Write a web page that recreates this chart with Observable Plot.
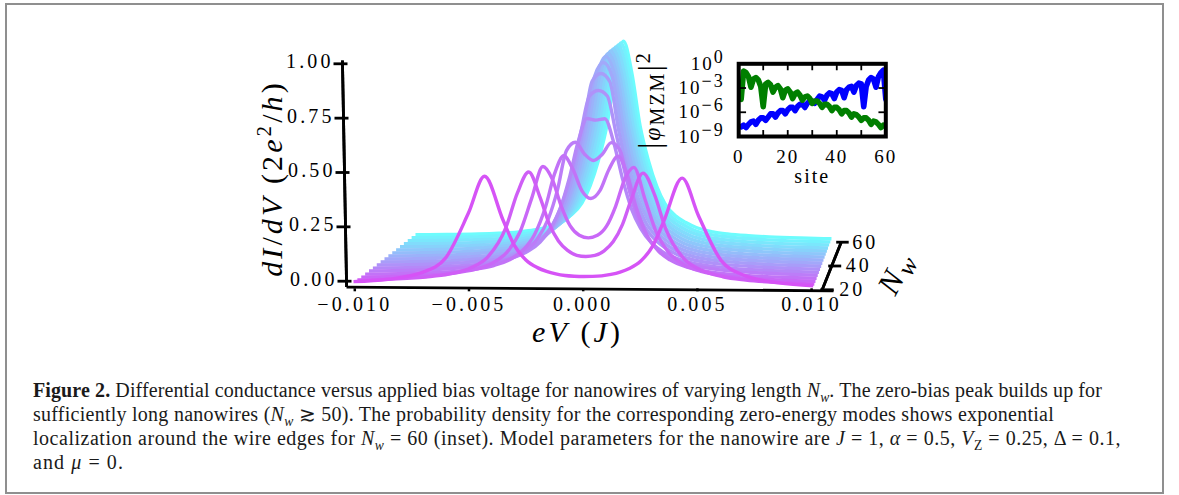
<!DOCTYPE html>
<html><head><meta charset="utf-8">
<script src="https://cdn.jsdelivr.net/npm/d3@7"></script>
<script src="https://cdn.jsdelivr.net/npm/@observablehq/plot@0.6"></script>
<style>
html,body{margin:0;padding:0;width:1179px;height:495px;overflow:hidden;background:#fff}
#frame{position:absolute;left:5px;top:3px;width:1159px;height:491px;box-sizing:border-box;border:2px solid #8f8f8f}
#main,#inset{position:absolute}
#main{left:0;top:0}
#inset{left:630px;top:10px}
#main text,#inset text{font-family:"Liberation Serif",serif}
#main text{letter-spacing:3.1px}
#inset text{letter-spacing:2px}
.cap{position:absolute;left:33px;white-space:nowrap;font:20px/22px "Liberation Serif",serif;color:#1a1a1a}
.cap sub{font-size:.68em;line-height:0}
</style></head><body>
<div id="frame"></div><div id="main"></div><div id="inset"></div>
<div class="cap" data-w="1069" style="top:379px"><b>Figure 2.</b> Differential conductance versus applied bias voltage for nanowires of varying length <i>N<sub>w</sub></i>. The zero-bias peak builds up for</div>
<div class="cap" data-w="1021" style="top:403px">sufficiently long nanowires (<i>N<sub>w</sub></i> ≳ 50). The probability density for the corresponding zero-energy modes shows exponential</div>
<div class="cap" data-w="1088" style="top:427px">localization around the wire edges for <i>N<sub>w</sub></i> = 60 (inset). Model parameters for the nanowire are <i>J</i> = 1, <i>α</i> = 0.5, <i>V</i><sub>Z</sub> = 0.25, Δ = 0.1,</div>
<div class="cap" data-w="91" style="top:451px">and <i>μ</i> = 0.</div>
<script>
// half-profile bias grid (the curves are symmetric about zero bias), in units of J
const biasGrid = [0,.0004,.0008,.0012,.0016,.002,.0025,.003,.0035,.0043,.005,.006,.007,.0085,.01];
// conductance read at the grid above, one array per wire length
const g20   = [.05,.051,.054,.061,.072,.089,.124,.19,.308,.507,.337,.129,.062,.029,.017];
const g22_5 = [.129,.134,.156,.199,.278,.399,.517,.419,.259,.122,.073,.041,.027,.016,.011];
const g25   = [.202,.214,.257,.35,.476,.532,.382,.229,.142,.076,.05,.031,.021,.0135,.0094];
const g27_5 = [.373,.41,.51,.572,.49,.335,.201,.129,.089,.055,.039,.026,.019,.0124,.0089];
const g30   = [.54,.57,.625,.585,.40,.265,.168,.1145,.083,.0535,.039,.027,.0196,.0132,.0095];
const g32_5 = [.72,.727,.615,.44,.30,.21,.14,.0985,.0727,.0478,.035,.0242,.0176,.0118,.0085];
const g35   = [.851,.825,.645,.46,.32,.22,.148,.105,.075,.047,.035,.024,.0175,.0118,.0085];
const g37_5 = [.923,.885,.655,.46,.315,.217,.146,.103,.073,.046,.034,.024,.017,.0115,.0084];
const g40   = [.967,.90,.655,.455,.31,.215,.143,.101,.072,.045,.033,.023,.017,.0113,.0083];
const g42_5 = [.987,.895,.65,.45,.31,.21,.141,.099,.07,.044,.033,.023,.0165,.011,.0082];
const g45   = [.993,.885,.64,.445,.305,.206,.138,.097,.068,.043,.032,.022,.016,.0108,.0081];
const g47_5 = [.996,.875,.63,.44,.30,.202,.134,.095,.066,.042,.031,.022,.016,.0105,.008];
const g50   = [.998,.865,.62,.43,.295,.198,.131,.092,.065,.041,.03,.021,.0155,.0103,.0079];
const g52_5 = [.999,.86,.61,.42,.29,.193,.127,.09,.063,.04,.03,.021,.015,.0101,.0078];
const g55   = [1,.85,.595,.41,.28,.187,.123,.088,.061,.039,.029,.02,.015,.01,.0077];
const g57_5 = [1,.845,.58,.40,.27,.182,.119,.085,.059,.038,.028,.02,.0145,.0099,.0076];
const g60   = [1,.84,.57,.395,.265,.176,.116,.083,.058,.037,.027,.019,.014,.0098,.0075];
const wireLengths = [60,57.5,55,52.5,50,47.5,45,42.5,40,37.5,35,32.5,30,27.5,25,22.5,20];
const curveValues = [g60,g57_5,g55,g52_5,g50,g47_5,g45,g42_5,g40,g37_5,g35,g32_5,g30,g27_5,g25,g22_5,g20];

const xTicks = [-0.01,-0.005,0,0.005,0.01];
const yTicks = [0,0.25,0.5,0.75,1];
const yTickLabels = ["0.00","0.25","0.50","0.75","1.00"];
const nwTicks = [20,40,60];

// inset: log10 of the probability density per site
const sites = d3.range(1,61);
const logBlue = [-7.8,-7.6,-7.9,-7.5,-7.2,-7.1,-7.5,-7.0,-6.7,-6.7,-7.0,-6.6,-6.2,-6.2,-6.6,-6.1,-5.8,-5.8,-6.2,-5.7,-5.4,-5.4,-5.8,-5.3,-5.0,-5.0,-5.4,-4.9,-4.6,-4.6,
 -4.9,-4.4,-4.0,-4.1,-4.5,-3.9,-3.6,-3.7,-4.3,-3.5,-3.2,-3.3,-4.2,-3.2,-2.9,-2.8,-3.5,-2.7,-2.4,-2.5,-5.3,-2.8,-2.0,-1.7,-1.9,-2.9,-1.6,-1.1,-0.8,-4.4];
const logGreen = [-4.4,-0.9,-1.1,-1.6,-2.9,-1.9,-1.7,-2.0,-2.8,-5.3,-2.5,-2.3,-2.6,-3.5,-2.9,-2.7,-3.1,-4.2,-3.3,-3.1,-3.5,-4.3,-3.7,-3.5,-3.9,-4.5,-4.1,-4.0,-4.3,-4.9,
 -4.6,-4.6,-4.9,-5.4,-5.0,-5.0,-5.3,-5.8,-5.4,-5.4,-5.7,-6.2,-5.8,-5.8,-6.1,-6.6,-6.2,-6.3,-6.6,-7.0,-6.7,-6.7,-7.0,-7.5,-7.1,-7.2,-7.5,-7.9,-7.6,-7.7];
const insetXTicks = [10,20,30,40,50];
const insetYTicks = [1e-3,1e-6];

// ---- helpers
const pxPerX = 22840, pxPerY = 217.4, x0px = 582.7, y0px = 280.7;
const X = px => (px - x0px) / pxPerX;
const Y = py => (y0px - py) / pxPerY;
const depth = nw => (nw - 20) / 40;
const projX = (e, nw) => { const t = depth(nw); return e * (1.00635 - .0957 * t) + .0000066 + .001757 * t; };
const projY = (e, g, nw) => { const t = depth(nw); return g * (1 - .094 * t) - .0285 + .2263 * t - .966 * e; };

const rows = [];
wireLengths.forEach((nw, k) => {
  const g = curveValues[k];
  for (let j = biasGrid.length - 1; j > 0; j--) rows.push({nw, x: projX(-biasGrid[j], nw), y: projY(-biasGrid[j], g[j], nw)});
  for (let j = 0; j < biasGrid.length; j++) rows.push({nw, x: projX(biasGrid[j], nw), y: projY(biasGrid[j], g[j], nw)});
});

const yAxisPx = g => 346 - 4 * g;
const nwPx = nw => 821.7 + depth(nw) * 19;
const nwPy = nw => 289.3 - depth(nw) * 47.6;
const black = {stroke: "#000", strokeWidth: 2.8, strokeLinecap: "butt"};

const main = Plot.plot({
  width: 1179, height: 355, marginLeft: 330, marginRight: 319, marginTop: 0, marginBottom: 66.7,
  x: {domain: [X(330), X(860)]},
  y: {domain: [Y(288.3), Y(0)], axis: null},
  color: {type: "linear", domain: [20, 60], range: ["#d653f6", "#6dfcfd"]},
  style: {background: "transparent", fontSize: "20px", color: "#000"},
  marks: [
    Plot.line(rows, {x: "x", y: "y", z: "nw", stroke: "nw", strokeWidth: 3.4, strokeLinecap: "butt", curve: "monotone-x"}),
    Plot.axisX({ticks: xTicks, tickFormat: d3.format(".3f"), tickSize: 3, tickPadding: 5, strokeWidth: 2.5, label: null}),
    Plot.link([{a: 346, b: 286.7, c: 833, d: 290.3}], {x1: d => X(d.a), y1: d => Y(d.b), x2: d => X(d.c), y2: d => Y(d.d), ...black}),
    Plot.link([1.015, -0.027], {x1: () => X(yAxisPx(1.015)), y1: () => 1.015, x2: () => X(yAxisPx(-0.027)), y2: () => -0.027, ...black}),
    Plot.link(yTicks, {x1: g => X(yAxisPx(g) - 9), x2: g => X(yAxisPx(g) + 5), y1: g => g, y2: g => g, ...black}),
    Plot.text(yTicks, {x: g => X(yAxisPx(g) - 9), y: g => g, text: (g, i) => yTickLabels[i], textAnchor: "end", dy: -2}),
    Plot.link([20, 60], {x1: () => X(nwPx(20)), y1: () => Y(nwPy(20)), x2: () => X(nwPx(60)), y2: () => Y(nwPy(60)), ...black}),
    Plot.link(nwTicks, {x1: n => X(nwPx(n) - 2 - 3 * depth(n)), x2: n => X(nwPx(n) + 11.5 - 4 * depth(n)), y1: n => Y(nwPy(n)), y2: n => Y(nwPy(n)), ...black}),
    Plot.text(nwTicks, {x: n => X(nwPx(n) + 17 - 6 * depth(n)), y: n => Y(nwPy(n)), text: String, textAnchor: "start"}),
    Plot.text(["eV (J)"], {x: X(577), y: Y(332), fontSize: 30, text: d => d}),
    Plot.text(["dI/dV (2e2/h)"], {x: X(272), y: Y(178), fontSize: 30, rotate: -90, text: d => d}),
    Plot.text(["Nw"], {x: X(896), y: Y(272), fontSize: 32, rotate: -62, text: d => d})
  ]
});
document.getElementById("main").append(main);

const inset = Plot.plot({
  width: 290, height: 180, marginLeft: 108.2, marginRight: 34.7, marginTop: 53.3, marginBottom: 54,
  x: {domain: [0, 60]},
  y: {type: "log", domain: [1e-9, 1]},
  style: {background: "transparent", fontSize: "19px", color: "#000"},
  marks: [
    Plot.line(sites, {x: d => d, y: (d, i) => Math.pow(10, logBlue[i]), stroke: "#0000ff", strokeWidth: 5.6, clip: true}),
    Plot.line(sites, {x: d => d, y: (d, i) => Math.pow(10, logGreen[i]), stroke: "#007f00", strokeWidth: 5.6, clip: true}),
    Plot.link(insetXTicks, {x1: d => d, x2: d => d, y1: () => 1e-9, y2: () => Math.pow(10, -8.2), stroke: "#000", strokeWidth: 1.8}),
    Plot.link(insetXTicks, {x1: d => d, x2: d => d, y1: () => 1, y2: () => Math.pow(10, -0.8), stroke: "#000", strokeWidth: 1.8}),
    Plot.link(insetYTicks, {x1: () => 0, x2: () => 3, y1: d => d, y2: d => d, stroke: "#000", strokeWidth: 1.8}),
    Plot.link(insetYTicks, {x1: () => 60, x2: () => 57, y1: d => d, y2: d => d, stroke: "#000", strokeWidth: 1.8}),
    Plot.frame({stroke: "#000", strokeWidth: 4}),
    Plot.axisX({ticks: [0, 20, 40, 60], tickSize: 0, tickPadding: 13, label: null}),
    Plot.axisY({ticks: [1, 1e-3, 1e-6, 1e-9], tickFormat: v => "10^" + Math.round(Math.log10(v)), tickSize: 0, tickPadding: 14, label: null}),
    Plot.text(["site"], {frameAnchor: "bottom", lineAnchor: "middle", dy: 40, fontSize: 20, text: d => d}),
    Plot.text(["|φMZM|2"], {frameAnchor: "left", textAnchor: "middle", dx: -86, dy: 0, rotate: -90, fontSize: 24, text: d => d})
  ]
});
document.getElementById("inset").append(inset);

// typeset labels: italics, sub- and superscripts
const it = s => `<tspan font-style="italic">${s}</tspan>`;
const markup = {
  "eV (J)": `${it("eV")} (${it("J")})`,
  "dI/dV (2e2/h)": `${it("dI")}/${it("dV")} (2${it("e")}<tspan dy="-11" font-size="21">2</tspan><tspan dy="11">/</tspan>${it("h")})`,
  "Nw": `${it("N")}<tspan dy="5" font-size="25" font-style="italic">w</tspan>`,
  "|φMZM|2": `<tspan font-size="32">|</tspan>${it("φ")}<tspan dy="4" font-size="20">MZM</tspan><tspan dy="-4" font-size="32">|</tspan><tspan dy="-10" font-size="20">2</tspan>`
};
for (const root of [main, inset]) for (const t of root.querySelectorAll("text")) {
  const s = t.textContent.trim();
  if (markup[s]) t.innerHTML = markup[s];
  else if (/^10\^/.test(s)) t.innerHTML = `10<tspan dy="-7" font-size="18">${s.slice(3).replace("-", "−")}</tspan>`;
}

// fit caption lines to their measured widths
for (const c of document.querySelectorAll(".cap")) {
  const w = c.getBoundingClientRect().width;
  c.style.letterSpacing = ((+c.dataset.w - w) / c.textContent.length) + "px";
}
</script></body></html>
